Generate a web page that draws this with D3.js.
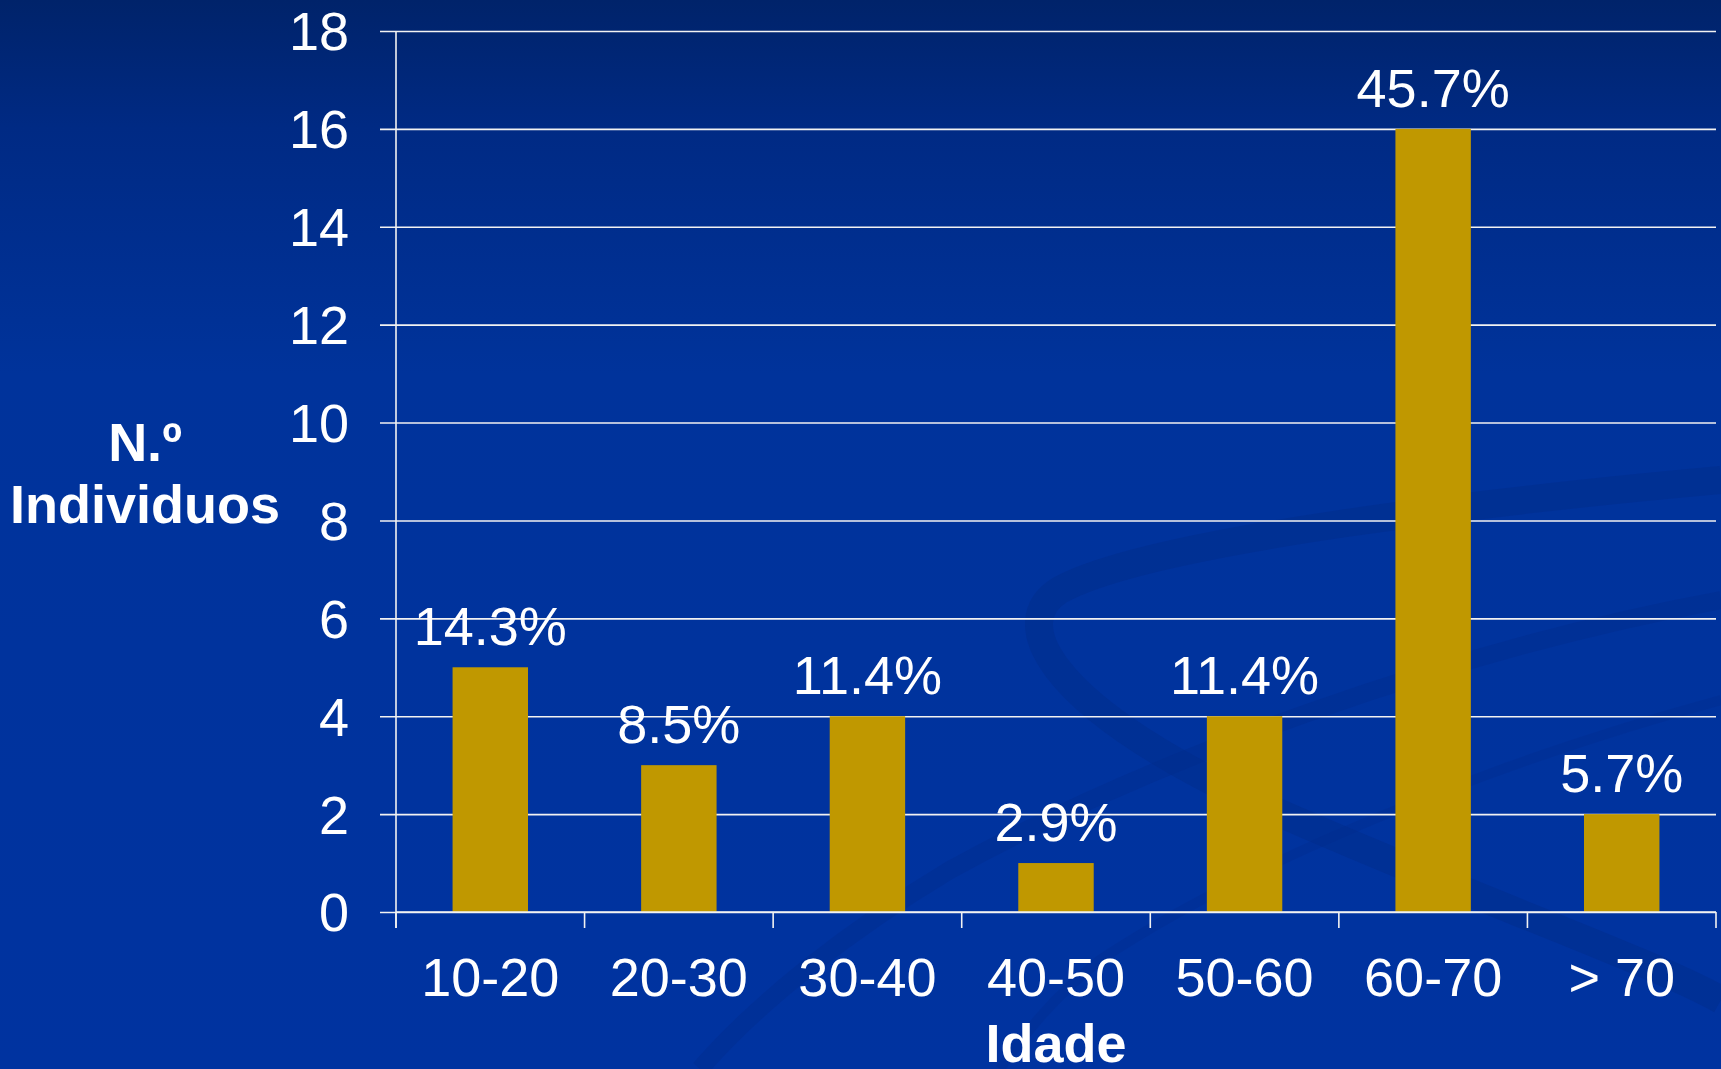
<!DOCTYPE html>
<html>
<head>
<meta charset="utf-8">
<script src="https://cdn.jsdelivr.net/npm/d3@7"></script>
<style>
  html, body { margin: 0; padding: 0; background: #0033a0; overflow: hidden; }
  svg { display: block; }
  text { font-family: "Liberation Sans", Arial, sans-serif; fill: #ffffff; }
</style>
</head>
<body>
<script>
const categories = ["10-20", "20-30", "30-40", "40-50", "50-60", "60-70", "> 70"];
const counts = [5, 3, 4, 1, 4, 16, 2];
const percentLabels = ["14.3%", "8.5%", "11.4%", "2.9%", "11.4%", "45.7%", "5.7%"];
const yTicks = [0, 2, 4, 6, 8, 10, 12, 14, 16, 18];
const yTitleLines = ["N.º", "Individuos"];
const xTitle = "Idade";

const W = 1721, H = 1069;
const FS = 54;
const svg = d3.select("body").append("svg").attr("width", W).attr("height", H);

// background
const defs = svg.append("defs");
const grad = defs.append("linearGradient").attr("id", "bg").attr("x1", 0).attr("y1", 0).attr("x2", 0).attr("y2", 1);
grad.append("stop").attr("offset", "0").attr("stop-color", "#00236a");
grad.append("stop").attr("offset", "0.12").attr("stop-color", "#002a84");
grad.append("stop").attr("offset", "0.35").attr("stop-color", "#00339b");
grad.append("stop").attr("offset", "1").attr("stop-color", "#0033a0");
svg.append("rect").attr("width", W).attr("height", H).attr("fill", "url(#bg)");

// faint decorative swooshes
const deco = svg.append("g").attr("fill", "none").attr("stroke", "#002c8a");
deco.append("path").attr("stroke-width", 28).attr("opacity", 0.45)
  .attr("d", "M1721,480 C1500,500 1150,540 1060,590 C1010,620 1040,700 1250,800 C1450,890 1650,960 1721,1000");
deco.append("path").attr("stroke-width", 18).attr("opacity", 0.35)
  .attr("d", "M1721,600 C1450,650 1150,760 950,870 C850,930 760,1000 700,1069");
deco.append("path").attr("stroke-width", 10).attr("opacity", 0.3)
  .attr("d", "M1721,700 C1500,760 1250,860 1100,960 C1050,1000 1020,1040 1000,1069");

const x0 = 396, x1 = 1716, yTop = 31, yBot = 912;
const x = d3.scaleBand().domain(categories).range([x0, x1]).paddingInner(0.6).paddingOuter(0.3);
const y = d3.scaleLinear().domain([0, 18]).range([yBot, yTop]);

const lineColor = "#f2f2f2";

// gridlines with left tick
const yAxis = d3.axisLeft(y).tickValues(yTicks).tickSize(-(x1 - x0)).tickSizeOuter(0).tickFormat("");
const gy = svg.append("g").attr("transform", `translate(${x0},0)`).call(yAxis);
gy.select(".domain").remove();
gy.selectAll(".tick line").attr("x1", -16).attr("stroke", lineColor).attr("stroke-width", 1.6);

// y labels
svg.append("g").selectAll("text").data(yTicks).join("text")
  .attr("x", 349).attr("y", d => y(d)).attr("dy", "0.36em")
  .attr("text-anchor", "end").attr("font-size", FS).text(d => d);

// bars
svg.append("g").selectAll("rect").data(counts).join("rect")
  .attr("x", (d, i) => x(categories[i]))
  .attr("y", d => y(d))
  .attr("width", x.bandwidth())
  .attr("height", d => y(0) - y(d))
  .attr("fill", "#c09800");

// x axis line and ticks
svg.append("line").attr("x1", x0).attr("x2", x1).attr("y1", yBot).attr("y2", yBot)
  .attr("stroke", lineColor).attr("stroke-width", 1.6);
svg.append("line").attr("x1", x0).attr("x2", x0).attr("y1", yTop).attr("y2", yBot + 16)
  .attr("stroke", lineColor).attr("stroke-width", 1.6);
const boundaries = categories.map(c => x(c) - x.step() * x.paddingOuter()).concat([x1]);
svg.append("g").selectAll("line").data(boundaries).join("line")
  .attr("x1", d => d).attr("x2", d => d).attr("y1", yBot).attr("y2", yBot + 16)
  .attr("stroke", lineColor).attr("stroke-width", 1.6);

// x labels
svg.append("g").selectAll("text").data(categories).join("text")
  .attr("x", d => x(d) + x.bandwidth() / 2).attr("y", 996)
  .attr("text-anchor", "middle").attr("font-size", FS).text(d => d);

// value labels
svg.append("g").selectAll("text").data(counts).join("text")
  .attr("x", (d, i) => x(categories[i]) + x.bandwidth() / 2)
  .attr("y", d => y(d) - 22)
  .attr("text-anchor", "middle").attr("font-size", FS)
  .text((d, i) => percentLabels[i]);

// axis titles
svg.append("g").selectAll("text").data(yTitleLines).join("text")
  .attr("x", 145).attr("y", (d, i) => 461 + i * 61.7)
  .attr("text-anchor", "middle").attr("font-size", FS).attr("font-weight", "bold")
  .text(d => d);
svg.append("text").attr("x", (x0 + x1) / 2).attr("y", 1062)
  .attr("text-anchor", "middle").attr("font-size", FS).attr("font-weight", "bold").text(xTitle);
</script>
</body>
</html>
